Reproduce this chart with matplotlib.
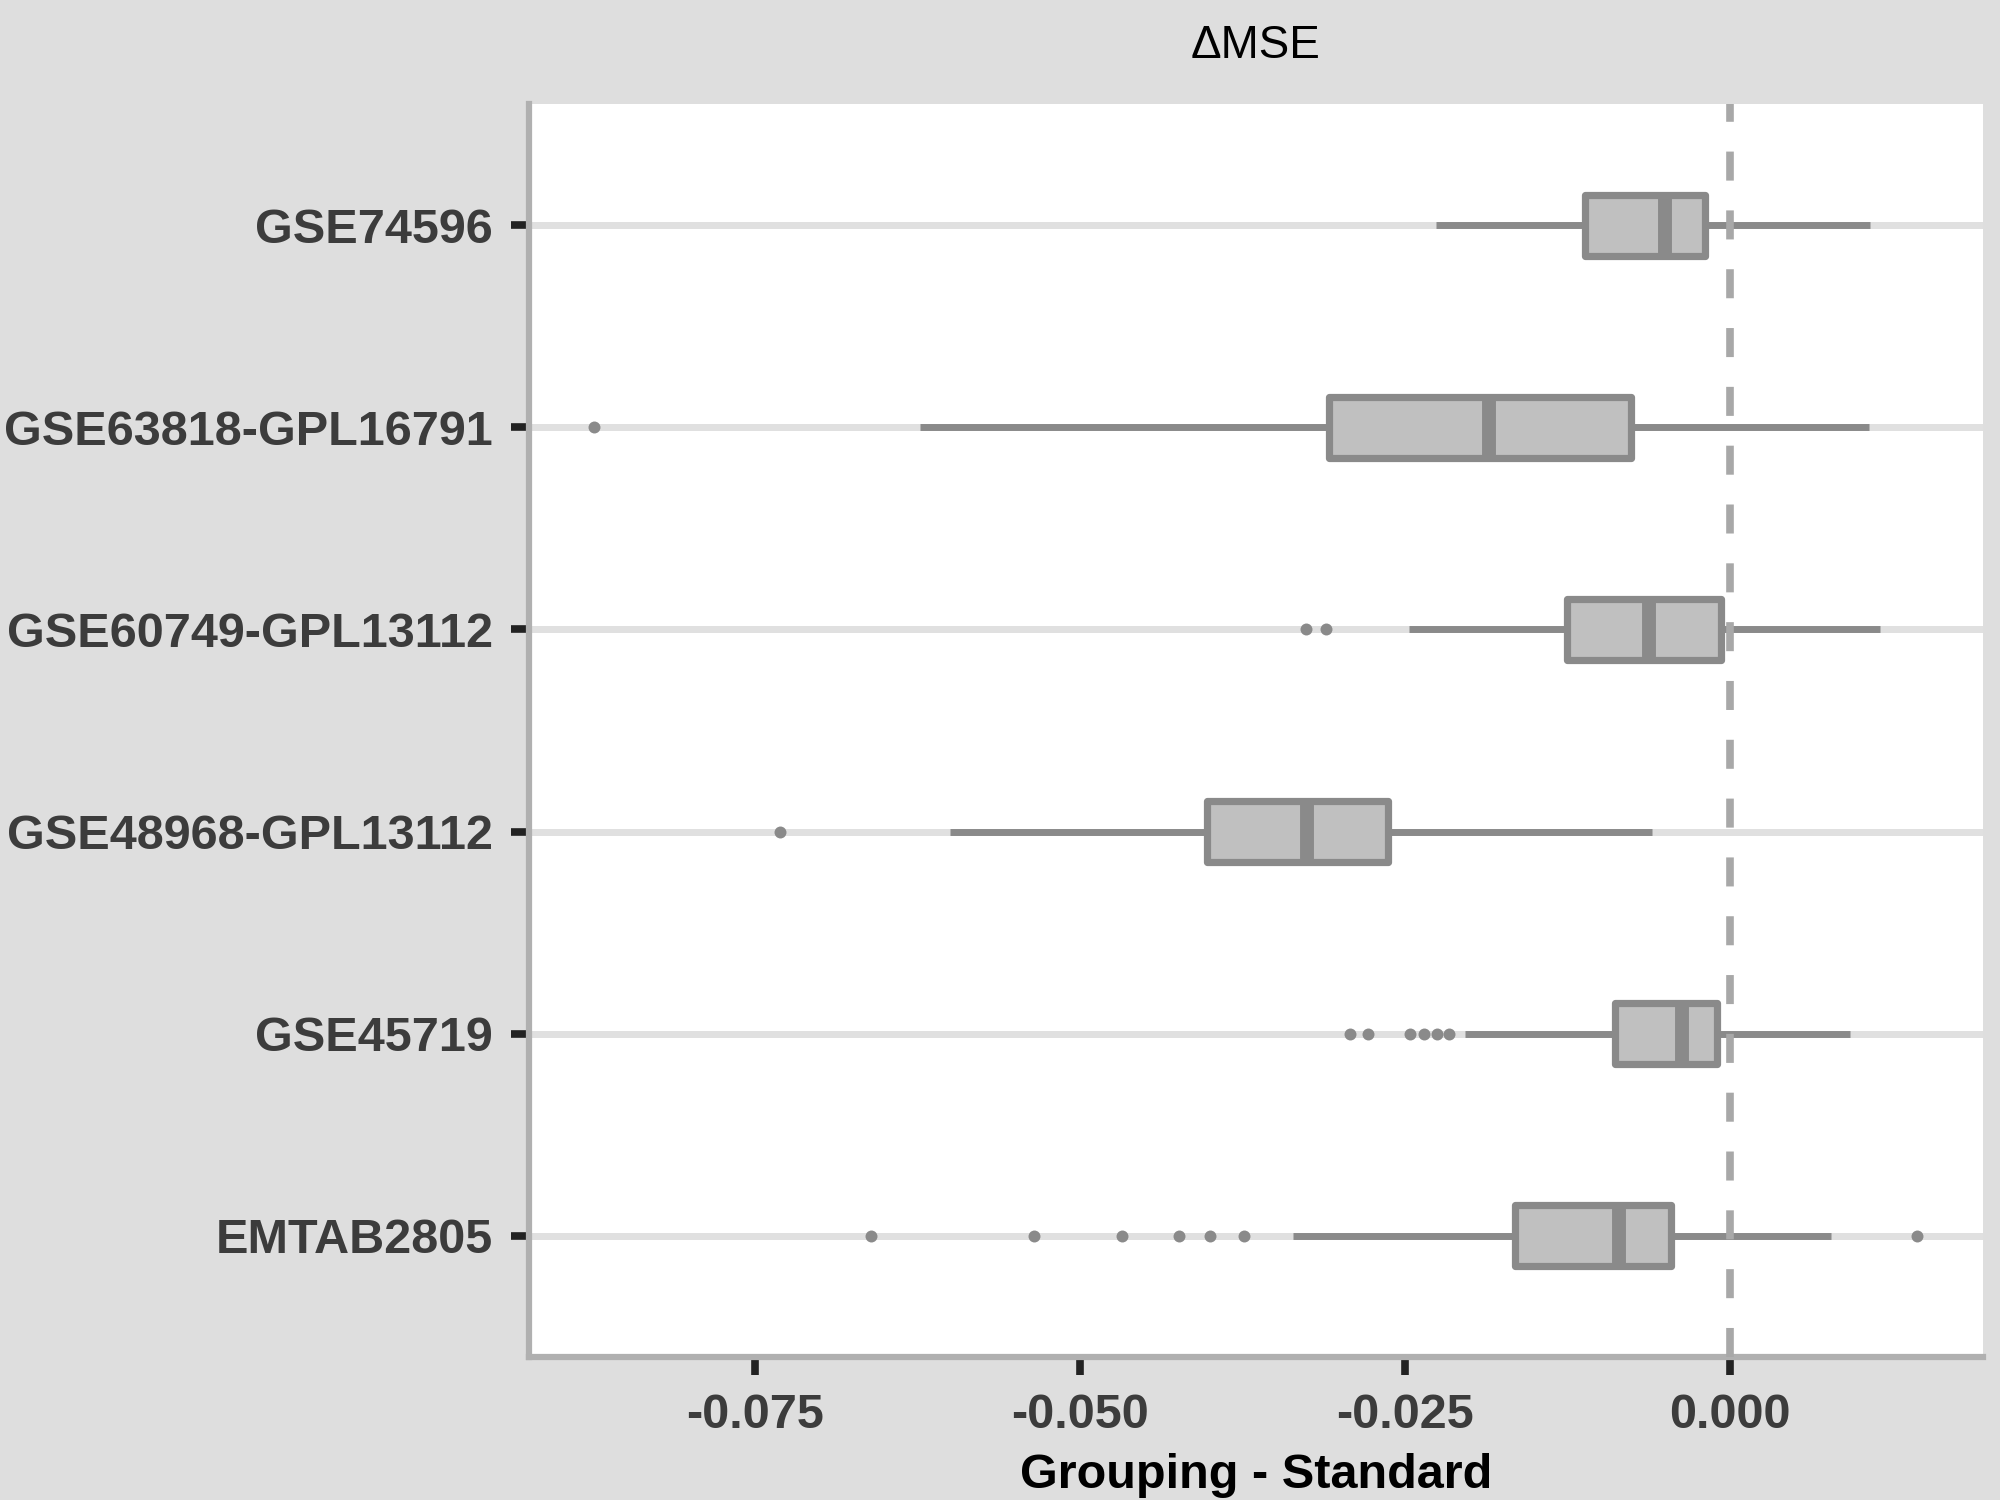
"""Boxplots of delta MSE (Grouping - Standard) per dataset."""

import matplotlib

matplotlib.use("Agg")
import matplotlib.pyplot as plt

plt.rcParams["font.family"] = ["Liberation Sans", "DejaVu Sans"]

# datasets from bottom to top
DATASETS = [
    "EMTAB2805",
    "GSE45719",
    "GSE48968-GPL13112",
    "GSE60749-GPL13112",
    "GSE63818-GPL16791",
    "GSE74596",
]
WHISKER_LO = [-0.0336, -0.0204, -0.0600, -0.0247, -0.0623, -0.0226]
Q1 = [-0.0165, -0.0088, -0.0402, -0.0125, -0.0308, -0.0111]
MEDIAN = [-0.0085, -0.0037, -0.0325, -0.0062, -0.0185, -0.0050]
Q3 = [-0.0045, -0.0010, -0.0263, -0.0007, -0.0076, -0.0019]
WHISKER_HI = [0.0078, 0.0093, -0.0060, 0.0116, 0.0107, 0.0108]
OUTLIERS = [
    [-0.0661, -0.0535, -0.0468, -0.0424, -0.0400, -0.0374, 0.0144],
    [-0.0292, -0.0278, -0.0246, -0.0235, -0.0225, -0.0216],
    [-0.0731],
    [-0.0326, -0.0311],
    [-0.0874],
    [],
]
XTICKS = [-0.075, -0.050, -0.025, 0.000]

BG = "#DEDEDE"
EDGE = "#8A8A8A"
FILL = "#C0C0C0"


def main():
    fig = plt.figure(figsize=(20, 15), dpi=100, facecolor=BG)
    ax = fig.add_axes([0.2645, 0.0953, 0.727, 0.8354])
    ax.set_facecolor("white")

    stats = []
    for i, name in enumerate(DATASETS):
        stats.append(
            dict(
                label=name,
                whislo=WHISKER_LO[i],
                q1=Q1[i],
                med=MEDIAN[i],
                q3=Q3[i],
                whishi=WHISKER_HI[i],
                fliers=OUTLIERS[i],
            )
        )
    positions = list(range(1, len(DATASETS) + 1))

    ax.bxp(
        stats,
        positions=positions,
        widths=0.3,
        orientation="horizontal",
        patch_artist=True,
        showcaps=False,
        boxprops=dict(facecolor=FILL, edgecolor=EDGE, linewidth=5.2, joinstyle="round"),
        whiskerprops=dict(color=EDGE, linewidth=5, solid_capstyle="butt"),
        medianprops=dict(color=EDGE, linewidth=10, solid_capstyle="butt"),
        flierprops=dict(marker="o", markersize=8.6, markerfacecolor=EDGE,
                        markeredgecolor="none"),
        zorder=3,
    )

    ax.axvline(0, color="#A8A8A8", linewidth=5.5, dashes=(3.8, 3.9), zorder=5)

    ax.set_xlim(-0.0924, 0.0195)
    ax.set_ylim(0.4, 6.6)
    ax.set_yticks(positions)
    ax.set_yticklabels(DATASETS)
    ax.set_xticks(XTICKS)
    ax.set_xticklabels([f"{v:.3f}" for v in XTICKS])

    ax.grid(axis="y", color="#E0E0E0", linewidth=5)
    ax.grid(axis="x", visible=False)
    ax.set_axisbelow(True)

    for side in ["top", "right"]:
        ax.spines[side].set_visible(False)
    for side in ["left", "bottom"]:
        ax.spines[side].set_color("#B0B0B0")
        ax.spines[side].set_linewidth(4.5)

    ax.tick_params(axis="both", length=13, width=5.5, color="#222222", pad=13,
                   labelsize=35, labelcolor="#3C3C3C")
    for lab in ax.get_xticklabels() + ax.get_yticklabels():
        lab.set_fontweight("bold")

    ax.set_xlabel("Grouping - Standard", fontsize=35, fontweight="bold",
                  color="black", labelpad=11)
    fig.text(0.628, 0.969, "\u0394MSE", fontsize=33, color="black",
             ha="center", va="center")

    fig.savefig("out.png", dpi=100, facecolor=BG)
    plt.close(fig)


if __name__ == "__main__":
    main()
